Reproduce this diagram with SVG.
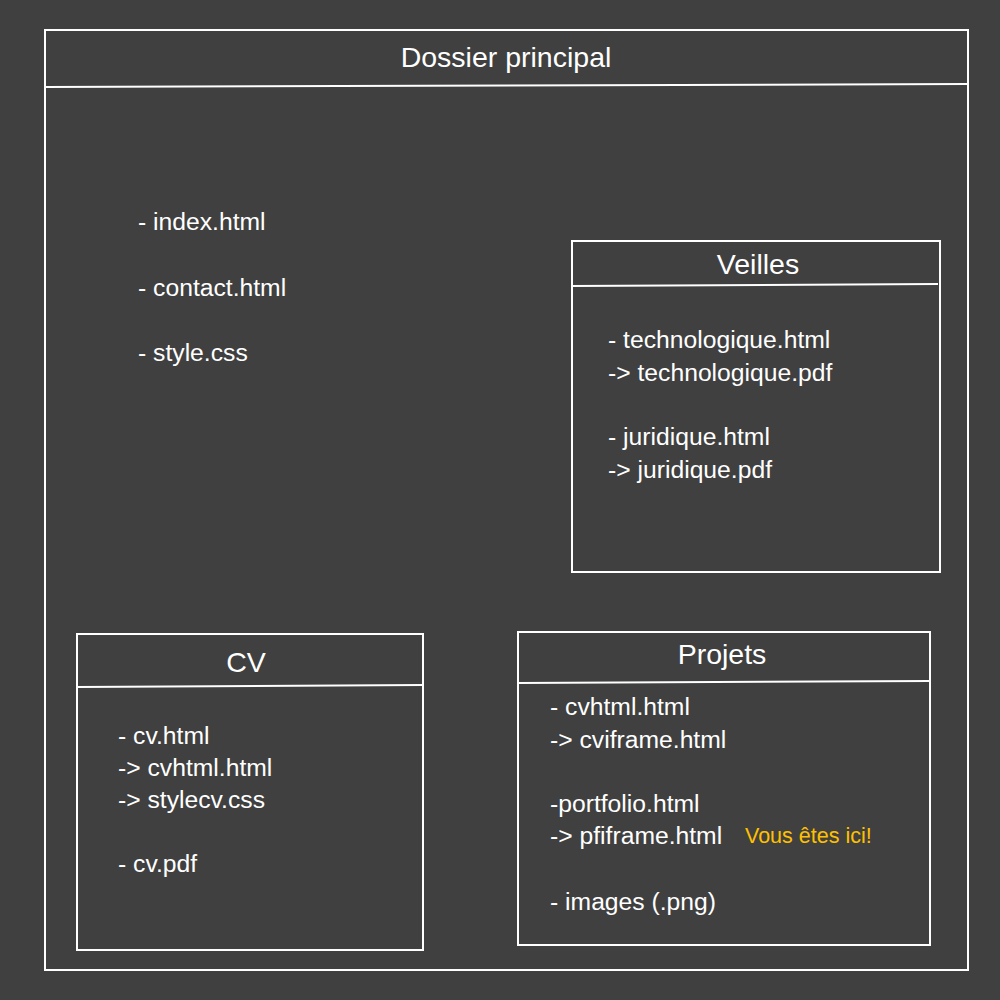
<svg xmlns="http://www.w3.org/2000/svg" width="1000" height="1000" viewBox="0 0 1000 1000">
<style>
.box{fill:none;stroke:#ffffff;stroke-width:2}
.sep{stroke:#ffffff;stroke-width:2}
text{font-family:"Liberation Sans","Open Sans",sans-serif;fill:#ffffff}
.t{font-size:28.5px;text-anchor:middle}
.i{font-size:24.7px}
.y{fill:#ffc000;font-size:21.5px}
</style>
<rect width="1000" height="1000" fill="#404040"/>
<g id="dossier-principal">
<rect class="box" x="45" y="30" width="923" height="940"/>
<line class="sep" x1="45" y1="87" x2="968" y2="84"/>
<text class="t" x="506" y="67">Dossier principal</text>
<text class="i" x="138" y="230">- index.html</text>
<text class="i" x="138" y="296">- contact.html</text>
<text class="i" x="138" y="361">- style.css</text>
</g>
<g id="veilles">
<rect class="box" x="572" y="241" width="368" height="331"/>
<line class="sep" x1="572" y1="286" x2="938" y2="284"/>
<text class="t" x="758" y="274">Veilles</text>
<text class="i" x="608" y="348">- technologique.html</text>
<text class="i" x="608" y="381">-&gt; technologique.pdf</text>
<text class="i" x="608" y="445">- juridique.html</text>
<text class="i" x="608" y="478">-&gt; juridique.pdf</text>
</g>
<g id="cv">
<rect class="box" x="77" y="634" width="346" height="316"/>
<line class="sep" x1="77" y1="687" x2="423" y2="685"/>
<text class="t" x="246" y="672">CV</text>
<text class="i" x="118" y="744">- cv.html</text>
<text class="i" x="118" y="776">-&gt; cvhtml.html</text>
<text class="i" x="118" y="808">-&gt; stylecv.css</text>
<text class="i" x="118" y="872">- cv.pdf</text>
</g>
<g id="projets">
<rect class="box" x="518" y="632" width="412" height="313"/>
<line class="sep" x1="518" y1="683" x2="930" y2="681"/>
<text class="t" x="722" y="664">Projets</text>
<text class="i" x="550" y="715">- cvhtml.html</text>
<text class="i" x="550" y="748">-&gt; cviframe.html</text>
<text class="i" x="550" y="812">-portfolio.html</text>
<text class="i" x="550" y="844">-&gt; pfiframe.html</text>
<text class="y" x="745" y="843">Vous êtes ici!</text>
<text class="i" x="550" y="910">- images (.png)</text>
</g>
<g id="connectors"></g>
</svg>
